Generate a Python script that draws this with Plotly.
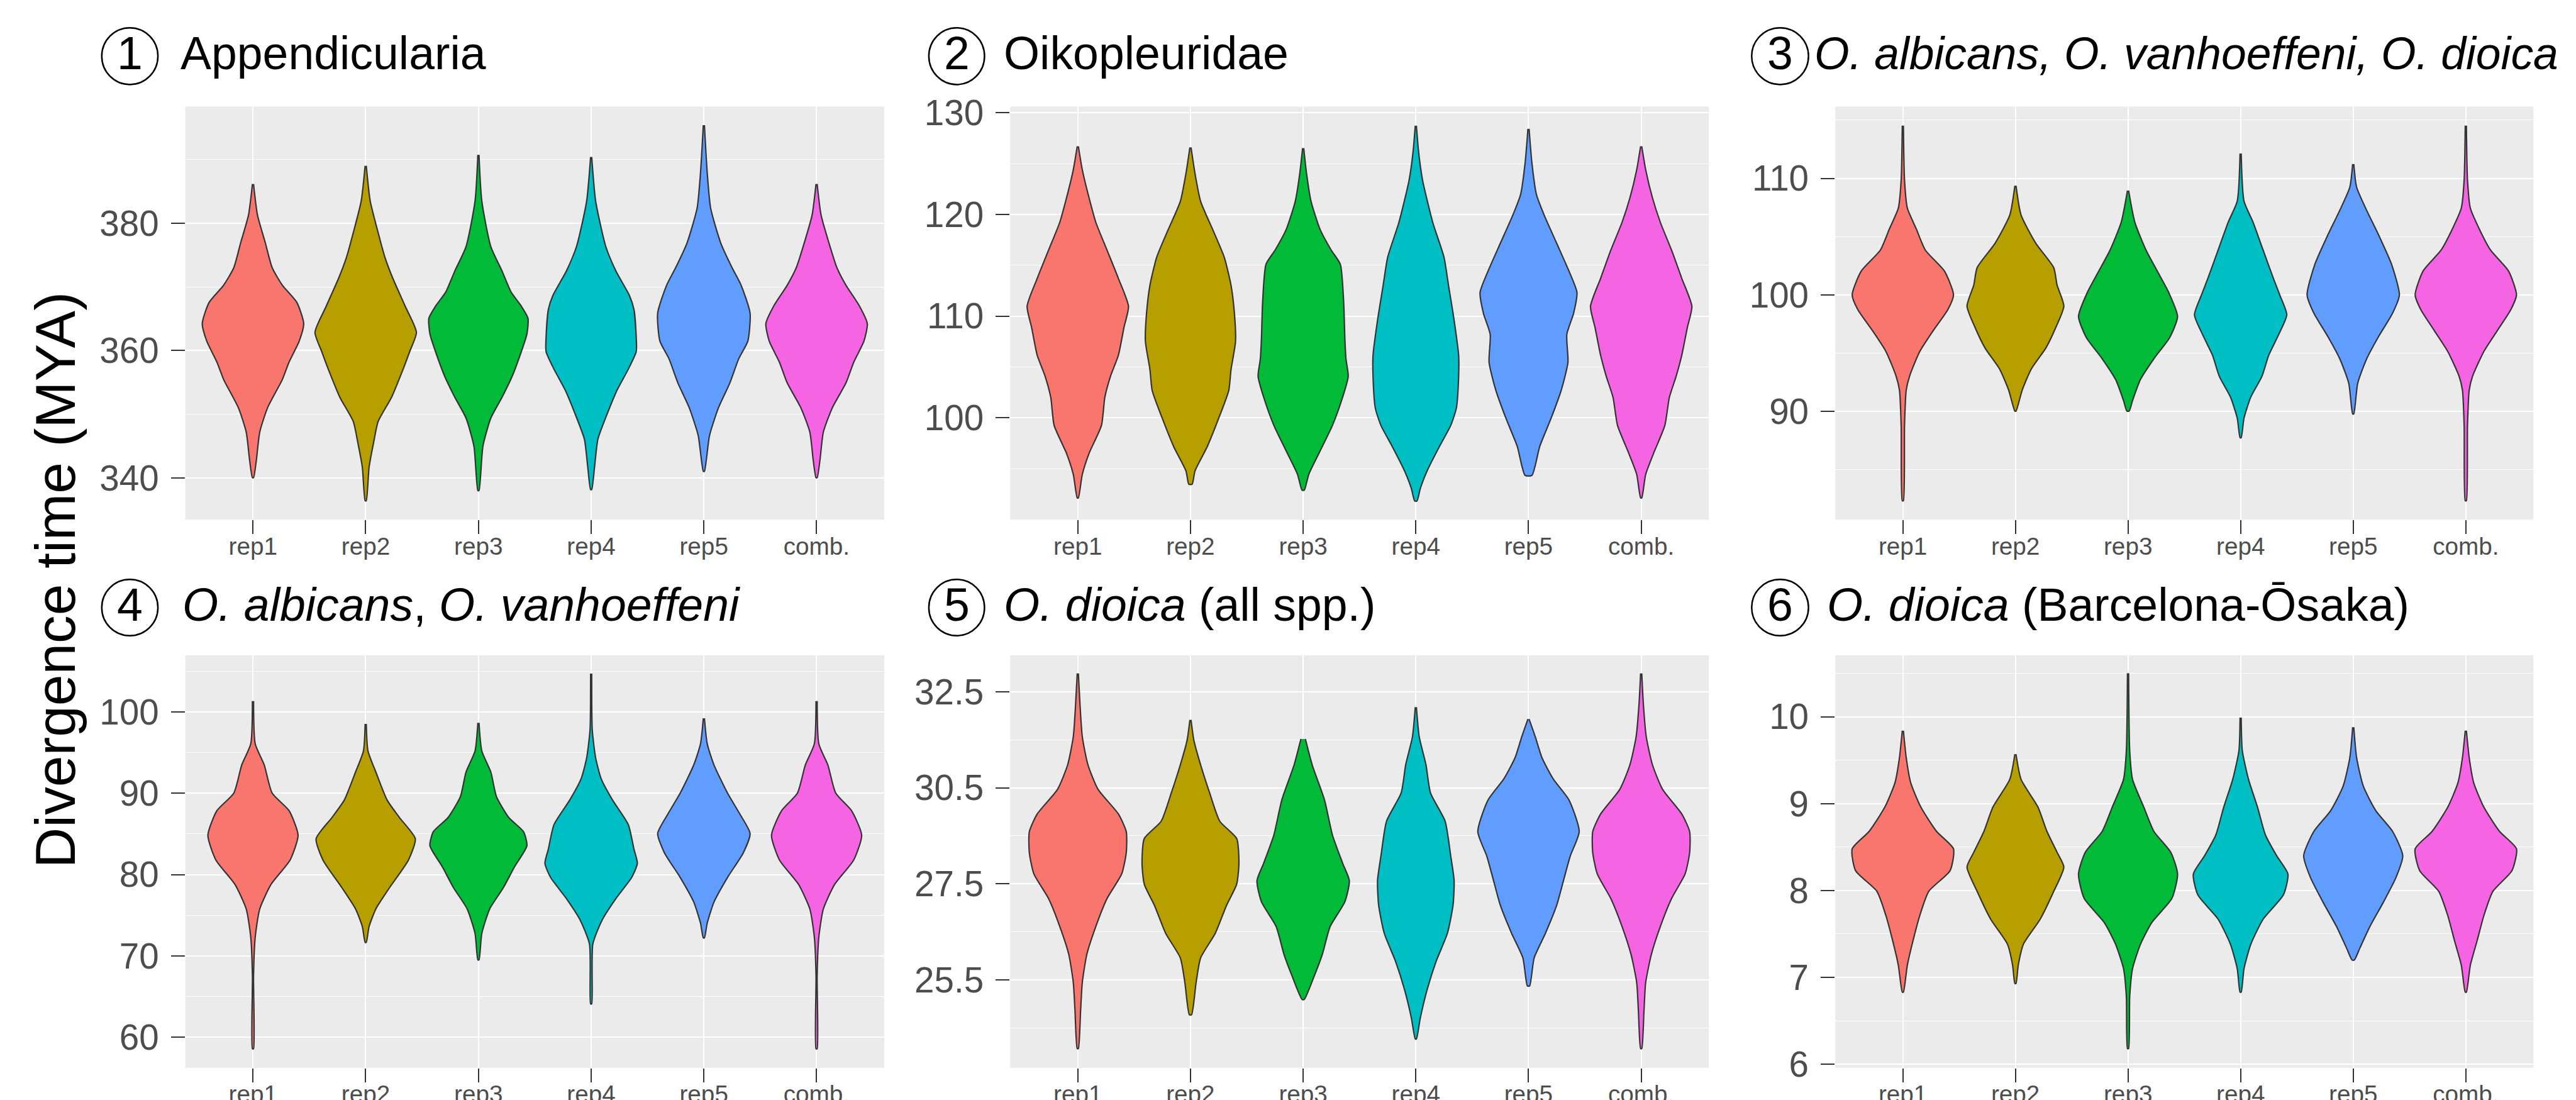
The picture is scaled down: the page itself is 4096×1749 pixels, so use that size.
import plotly.graph_objects as go

S = 0.992
FIG_W, FIG_H = 4096, 1749
FONT = "Liberation Sans, Arial, Helvetica, sans-serif"

CATEGORIES = ["rep1", "rep2", "rep3", "rep4", "rep5", "comb."]
COLORS = ["#F8766D", "#B79F00", "#00BA38", "#00BFC4", "#619CFF", "#F564E3"]
NUMBERS = ["1", "2", "3", "4", "5", "6"]
TITLES = [
    "Appendicularia",
    "Oikopleuridae",
    "<i>O. albicans, O. vanhoeffeni, O. dioica</i>",
    "<i>O. albicans</i>, <i>O. vanhoeffeni</i>",
    "<i>O. dioica</i> (all spp.)",
    "<i>O. dioica</i> (Barcelona-\u014csaka)",
]
Y_TITLE = "Divergence time (MYA)"

# ---- violin density profiles: (divergence time, half-width) ----
P1_Y = [
    [386.15, 381.26, 376.87, 373.02, 370.27, 367.53, 364.23, 361.48, 358.19, 355.44, 351.04, 347.2, 342.8, 340.05],
    [389.0, 383.46, 378.52, 374.67, 371.37, 366.98, 362.86, 359.84, 356.54, 352.69, 348.85, 345.55, 341.7, 336.43],
    [390.71, 383.46, 376.32, 372.47, 369.18, 366.98, 365.05, 362.58, 359.29, 355.99, 352.69, 349.4, 345.0, 338.02],
    [390.38, 383.46, 376.32, 372.47, 368.63, 366.43, 362.03, 359.84, 357.09, 353.79, 349.95, 346.1, 341.7, 338.19],
    [395.38, 387.86, 382.36, 376.87, 373.02, 370.27, 365.88, 361.48, 358.74, 354.89, 351.04, 346.65, 341.04],
    [386.15, 381.26, 376.87, 373.02, 370.27, 367.0, 364.23, 361.48, 358.19, 354.9, 351.04, 347.2, 342.8, 340.05],
]
P1_W = [
    [0.005, 0.04, 0.11, 0.17, 0.26, 0.39, 0.45, 0.41, 0.32, 0.26, 0.13, 0.06, 0.03, 0.005],
    [0.005, 0.04, 0.11, 0.17, 0.24, 0.35, 0.45, 0.39, 0.32, 0.23, 0.11, 0.07, 0.03, 0.005],
    [0.005, 0.03, 0.11, 0.21, 0.29, 0.38, 0.44, 0.43, 0.37, 0.30, 0.21, 0.11, 0.04, 0.005],
    [0.005, 0.04, 0.13, 0.22, 0.34, 0.38, 0.40, 0.40, 0.33, 0.23, 0.14, 0.06, 0.03, 0.005],
    [0.005, 0.03, 0.06, 0.15, 0.25, 0.33, 0.41, 0.39, 0.31, 0.23, 0.13, 0.05, 0.005],
    [0.005, 0.04, 0.11, 0.18, 0.26, 0.38, 0.45, 0.42, 0.33, 0.26, 0.14, 0.06, 0.03, 0.005],
]

P2_Y = [
    [126.71, 124.4, 121.64, 119.23, 116.48, 113.72, 110.96, 108.9, 106.14, 104.08, 102.01, 99.25, 96.5, 94.43, 92.12],
    [126.6, 124.05, 121.3, 118.2, 115.79, 113.03, 110.28, 107.52, 104.76, 102.7, 99.94, 97.19, 94.77, 93.47],
    [126.53, 124.05, 121.3, 118.54, 116.48, 115.1, 111.31, 107.86, 105.8, 104.08, 102.01, 99.25, 96.5, 94.43, 92.88],
    [128.74, 126.12, 123.37, 119.23, 115.79, 113.03, 109.59, 106.14, 104.08, 100.97, 99.25, 97.19, 94.77, 93.05, 91.81],
    [128.43, 125.09, 121.99, 119.92, 117.17, 114.41, 112.34, 110.28, 108.21, 105.45, 102.7, 99.94, 97.19, 94.33],
    [126.71, 124.4, 121.64, 119.23, 116.48, 113.72, 110.96, 108.9, 106.14, 104.08, 102.01, 99.25, 96.5, 94.43, 92.12],
]
P2_W = [
    [0.005, 0.04, 0.10, 0.16, 0.26, 0.36, 0.45, 0.41, 0.36, 0.29, 0.24, 0.21, 0.10, 0.04, 0.005],
    [0.005, 0.04, 0.09, 0.21, 0.30, 0.36, 0.39, 0.40, 0.36, 0.34, 0.25, 0.15, 0.04, 0.015],
    [0.005, 0.03, 0.07, 0.15, 0.25, 0.33, 0.36, 0.37, 0.38, 0.40, 0.35, 0.26, 0.14, 0.05, 0.01],
    [0.005, 0.025, 0.06, 0.15, 0.25, 0.29, 0.34, 0.38, 0.38, 0.36, 0.31, 0.21, 0.10, 0.04, 0.01],
    [0.005, 0.03, 0.07, 0.14, 0.25, 0.36, 0.43, 0.40, 0.34, 0.35, 0.29, 0.20, 0.10, 0.03],
    [0.005, 0.04, 0.10, 0.17, 0.27, 0.36, 0.45, 0.41, 0.36, 0.31, 0.25, 0.21, 0.11, 0.04, 0.005],
]

P3_Y = [
    [114.53, 109.85, 107.45, 105.65, 103.84, 102.04, 100.0, 98.74, 96.94, 95.14, 93.03, 91.83, 88.83, 82.34],
    [109.37, 106.85, 104.44, 102.34, 100.84, 99.04, 97.24, 95.44, 93.63, 91.83, 90.03],
    [108.95, 106.25, 103.84, 102.04, 100.24, 98.14, 96.34, 94.53, 92.73, 90.93, 90.03],
    [112.13, 108.05, 106.25, 103.84, 101.44, 99.94, 98.29, 96.64, 94.83, 93.03, 91.23, 89.43, 87.75],
    [111.23, 109.25, 107.45, 105.05, 102.64, 100.0, 98.44, 96.34, 94.53, 92.43, 89.79],
    [114.53, 109.85, 107.45, 105.65, 103.84, 102.04, 100.0, 98.74, 96.94, 95.14, 93.03, 91.83, 88.83, 82.34],
]
P3_W = [
    [0.005, 0.015, 0.04, 0.12, 0.20, 0.37, 0.45, 0.40, 0.27, 0.15, 0.06, 0.03, 0.015, 0.005],
    [0.005, 0.05, 0.18, 0.34, 0.37, 0.43, 0.36, 0.27, 0.14, 0.06, 0.005],
    [0.005, 0.06, 0.16, 0.26, 0.36, 0.44, 0.37, 0.23, 0.11, 0.04, 0.01],
    [0.005, 0.03, 0.11, 0.20, 0.29, 0.35, 0.41, 0.34, 0.25, 0.19, 0.09, 0.03, 0.005],
    [0.005, 0.03, 0.11, 0.23, 0.34, 0.41, 0.35, 0.22, 0.12, 0.04, 0.005],
    [0.005, 0.015, 0.04, 0.12, 0.22, 0.38, 0.45, 0.40, 0.28, 0.16, 0.06, 0.03, 0.015, 0.005],
]

P4_Y = [
    [101.34, 96.07, 93.48, 90.02, 87.86, 84.84, 81.81, 78.79, 75.77, 72.31, 67.56, 58.57],
    [98.53, 95.21, 92.61, 89.16, 87.0, 84.41, 81.81, 78.36, 75.77, 73.61, 71.66],
    [98.66, 95.21, 92.61, 89.59, 87.0, 85.27, 83.54, 80.95, 78.36, 75.77, 72.74, 69.5],
    [104.71, 97.8, 94.34, 91.75, 89.16, 86.13, 83.11, 81.38, 79.65, 77.06, 74.47, 71.45, 64.1],
    [99.22, 96.07, 93.48, 90.02, 87.43, 85.05, 82.68, 79.65, 76.63, 74.04, 72.22],
    [101.34, 96.07, 93.48, 90.02, 87.86, 84.84, 81.81, 78.79, 75.77, 72.31, 67.56, 58.57],
]
P4_W = [
    [0.005, 0.02, 0.10, 0.17, 0.32, 0.40, 0.33, 0.16, 0.06, 0.02, 0.005, 0.005],
    [0.005, 0.02, 0.09, 0.19, 0.30, 0.44, 0.38, 0.21, 0.09, 0.03, 0.005],
    [0.005, 0.03, 0.11, 0.16, 0.27, 0.40, 0.43, 0.32, 0.22, 0.10, 0.03, 0.005],
    [0.005, 0.01, 0.04, 0.09, 0.19, 0.33, 0.38, 0.41, 0.36, 0.22, 0.10, 0.015, 0.005],
    [0.005, 0.03, 0.09, 0.21, 0.32, 0.41, 0.35, 0.21, 0.09, 0.03, 0.005],
    [0.005, 0.02, 0.10, 0.17, 0.31, 0.40, 0.33, 0.16, 0.06, 0.02, 0.005, 0.005],
]

P5_Y = [
    [32.98, 32.15, 31.33, 30.6, 29.96, 29.32, 28.86, 28.31, 27.76, 27.12, 26.39, 25.66, 24.93, 24.2, 23.21],
    [31.77, 31.24, 30.6, 29.87, 29.13, 28.68, 28.04, 27.49, 26.94, 26.21, 25.57, 24.93, 24.09],
    [31.27, 30.6, 29.68, 28.77, 28.04, 27.58, 27.03, 26.39, 25.66, 25.11, 24.49],
    [32.1, 31.33, 30.6, 29.87, 29.13, 28.22, 27.58, 26.94, 26.21, 25.48, 24.74, 24.01, 23.46],
    [31.79, 31.33, 30.78, 30.23, 29.68, 28.86, 28.22, 27.58, 26.94, 26.21, 25.57, 24.84],
    [32.98, 32.15, 31.33, 30.6, 29.96, 29.32, 28.86, 28.31, 27.76, 27.12, 26.39, 25.66, 24.93, 24.2, 23.21],
]
P5_W = [
    [0.005, 0.02, 0.04, 0.09, 0.18, 0.36, 0.43, 0.43, 0.39, 0.26, 0.16, 0.08, 0.04, 0.025, 0.005],
    [0.005, 0.03, 0.09, 0.17, 0.26, 0.41, 0.43, 0.41, 0.32, 0.22, 0.09, 0.05, 0.01],
    [0.02, 0.08, 0.19, 0.26, 0.35, 0.41, 0.37, 0.24, 0.17, 0.10, 0.01],
    [0.005, 0.03, 0.09, 0.13, 0.26, 0.31, 0.34, 0.33, 0.28, 0.18, 0.10, 0.04, 0.005],
    [0.005, 0.06, 0.12, 0.22, 0.36, 0.45, 0.37, 0.31, 0.25, 0.15, 0.05, 0.01],
    [0.005, 0.02, 0.045, 0.10, 0.19, 0.36, 0.43, 0.43, 0.39, 0.27, 0.17, 0.09, 0.04, 0.025, 0.005],
]

P6_Y = [
    [9.84, 9.53, 9.24, 8.96, 8.68, 8.48, 8.23, 7.99, 7.71, 7.42, 7.14, 6.83],
    [9.57, 9.28, 8.96, 8.68, 8.44, 8.27, 7.99, 7.67, 7.38, 7.14, 6.93],
    [10.5, 9.61, 9.28, 8.96, 8.68, 8.44, 8.19, 7.91, 7.63, 7.38, 7.1, 6.78, 6.18],
    [9.99, 9.61, 9.28, 8.96, 8.64, 8.4, 8.19, 7.95, 7.67, 7.38, 7.1, 6.83],
    [9.88, 9.53, 9.2, 8.92, 8.68, 8.4, 8.15, 7.87, 7.59, 7.34, 7.2],
    [9.84, 9.53, 9.24, 8.96, 8.68, 8.48, 8.23, 7.99, 7.71, 7.42, 7.14, 6.83],
]
P6_W = [
    [0.005, 0.03, 0.07, 0.16, 0.30, 0.45, 0.42, 0.23, 0.15, 0.09, 0.04, 0.005],
    [0.005, 0.05, 0.20, 0.28, 0.37, 0.43, 0.34, 0.22, 0.07, 0.025, 0.005],
    [0.005, 0.015, 0.04, 0.14, 0.23, 0.38, 0.44, 0.39, 0.21, 0.11, 0.04, 0.015, 0.005],
    [0.005, 0.015, 0.07, 0.15, 0.22, 0.32, 0.42, 0.38, 0.20, 0.09, 0.03, 0.005],
    [0.005, 0.03, 0.09, 0.20, 0.35, 0.44, 0.38, 0.27, 0.15, 0.06, 0.01],
    [0.005, 0.03, 0.07, 0.16, 0.30, 0.45, 0.41, 0.24, 0.16, 0.10, 0.04, 0.005],
]

PANEL_Y = [P1_Y, P2_Y, P3_Y, P4_Y, P5_Y, P6_Y]
PANEL_W = [P1_W, P2_W, P3_W, P4_W, P5_W, P6_W]

Y_RANGES = [[333.45, 398.3], [89.97, 130.62], [80.71, 116.16],
            [56.24, 106.96], [22.71, 33.45], [5.96, 10.707]]
Y_TICKVALS = [[340, 360, 380], [100, 110, 120, 130], [90, 100, 110],
              [60, 70, 80, 90, 100], [25, 27.5, 30, 32.5], [6, 7, 8, 9, 10]]
Y_TICKTEXT = [["340", "360", "380"], ["100", "110", "120", "130"], ["90", "100", "110"],
              ["60", "70", "80", "90", "100"], ["25.5", "27.5", "30.5", "32.5"],
              ["6", "7", "8", "9", "10"]]
Y_MINOR = [[350, 370, 390], [95, 105, 115, 125], [85, 95, 105, 115],
           [65, 75, 85, 95, 105], [23.75, 26.25, 28.75, 31.25], [6.5, 7.5, 8.5, 9.5, 10.5]]

# ---- layout geometry (fractions of the figure) ----
X_DOMAINS = [[0.0700, 0.3413], [0.3902, 0.6614], [0.7105, 0.9815]]
Y_DOMAINS = [[0.5321, 0.9077], [0.0339, 0.4088]]
TITLE_X = [0.0677, 0.3872, 0.7020, 0.0683, 0.3872, 0.7068]
TITLE_SIZE = [74, 74, 72, 74, 74, 74]
TITLE_Y = [0.9562, 0.4545]
CIRCLE_X = [[0.03755, 0.05935], [0.35862, 0.38023], [0.67805, 0.70010]]
CIRCLE_Y = [[0.9277, 0.9793], [0.4267, 0.4779]]

fig = go.Figure()

for p in range(6):
    ax = "" if p == 0 else str(p + 1)
    for i, (ys, ws) in enumerate(zip(PANEL_Y[p], PANEL_W[p])):
        c = i + 1
        xs = [c + w for w in ws] + [c - w for w in ws[::-1]]
        yy = list(ys) + list(ys[::-1])
        fig.add_trace(go.Scatter(
            x=xs, y=yy, mode="lines", fill="toself", fillcolor=COLORS[i],
            line=dict(color="#333333", width=2.2 * S, shape="spline", smoothing=0.6),
            hoverinfo="skip", showlegend=False,
            xaxis="x" + ax, yaxis="y" + ax,
        ))

    col, row = p % 3, p // 3
    xkey = "xaxis" + ax
    ykey = "yaxis" + ax
    fig.layout[xkey] = dict(
        domain=X_DOMAINS[col], range=[0.4, 6.6], anchor="y" + ax,
        tickmode="array", tickvals=[1, 2, 3, 4, 5, 6], ticktext=CATEGORIES,
        showgrid=True, gridcolor="white", gridwidth=2.4 * S,
        zeroline=False, showline=False,
        ticks="outside", ticklen=22 * S, tickwidth=2 * S, tickcolor="#333333",
        ticklabelstandoff=-14,
        tickfont=dict(family=FONT, size=39 * S, color="#4D4D4D"),
        automargin=False, fixedrange=True,
    )
    fig.layout[ykey] = dict(
        domain=Y_DOMAINS[row], range=Y_RANGES[p], anchor="x" + ax,
        tickmode="array", tickvals=Y_TICKVALS[p], ticktext=Y_TICKTEXT[p],
        showgrid=True, gridcolor="white", gridwidth=2.4 * S,
        minor=dict(tickmode="array", tickvals=Y_MINOR[p], showgrid=True,
                   gridcolor="white", gridwidth=1.2 * S, ticks=""),
        zeroline=False, showline=False,
        ticks="outside", ticklen=22 * S, tickwidth=2 * S, tickcolor="#333333",
        ticklabelstandoff=8,
        tickfont=dict(family=FONT, size=57 * S, color="#4D4D4D"),
        automargin=False, fixedrange=True,
    )

annotations = []
shapes = []
for p in range(6):
    col, row = p % 3, p // 3
    shapes.append(dict(type="circle", xref="paper", yref="paper",
                       x0=CIRCLE_X[col][0], x1=CIRCLE_X[col][1],
                       y0=CIRCLE_Y[row][0], y1=CIRCLE_Y[row][1],
                       line=dict(color="black", width=2.5 * S), fillcolor="rgba(0,0,0,0)"))
    annotations.append(dict(text=NUMBERS[p], xref="paper", yref="paper",
                            x=(CIRCLE_X[col][0] + CIRCLE_X[col][1]) / 2, y=TITLE_Y[row],
                            xanchor="center", yanchor="middle", showarrow=False,
                            font=dict(family=FONT, size=74 * S, color="black")))
    annotations.append(dict(text=TITLES[p], xref="paper", yref="paper",
                            x=TITLE_X[p], y=TITLE_Y[row],
                            xanchor="left", yanchor="middle", showarrow=False,
                            font=dict(family=FONT, size=TITLE_SIZE[p] * S, color="black")))

annotations.append(dict(text=Y_TITLE, xref="paper", yref="paper", x=0.0194, y=0.4776,
                        xanchor="center", yanchor="middle", textangle=-90, showarrow=False,
                        font=dict(family=FONT, size=90 * S, color="black")))

fig.update_layout(
    width=FIG_W, height=FIG_H,
    margin=dict(l=0, r=0, t=0, b=0, pad=0),
    paper_bgcolor="white", plot_bgcolor="#EBEBEB",
    annotations=annotations, shapes=shapes,
    showlegend=False,
)

fig.write_html("out.html")
